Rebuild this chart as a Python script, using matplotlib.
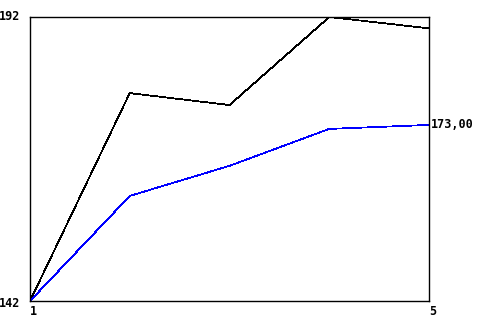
import matplotlib
matplotlib.use("Agg")
import matplotlib.pyplot as plt
from matplotlib.transforms import ScaledTranslation

x = [1, 2, 3, 4, 5]
black_series = [142, 178.6, 176.5, 192, 190.0]
blue_series = [142, 160.5, 165.8, 172.3, 173.0]
y_ticks = [142, 192]
x_ticks = [1, 5]
last_label = "173,00"

fig = plt.figure(figsize=(4.8, 3.2), dpi=100)
ax = fig.add_axes([30/480, 19/320, 399/480, 284/320])
ax.plot(x, black_series, color="black", lw=0.55, antialiased=False)
ax.plot(x, blue_series, color="blue", lw=0.55, antialiased=False)
ax.set_xlim(1, 5)
ax.set_ylim(142, 192)
font = dict(family="DejaVu Sans Mono", weight="bold", size=8.5)
ax.set_xticks(x_ticks)
ax.set_xticklabels([str(v) for v in x_ticks], ha="left", **font)
ax.set_yticks(y_ticks)
ax.set_yticklabels([str(v) for v in y_ticks], **font)
ax.tick_params(length=0, pad=3)
ax.tick_params(axis="y", pad=7)
ylabs = ax.get_yticklabels()
for lab in ylabs:
    lab.set_va("center")
ylabs[0].set_transform(ylabs[0].get_transform() + ScaledTranslation(0, -0.025, fig.dpi_scale_trans))
for sp in ax.spines.values():
    sp.set_linewidth(1.0)
ax.annotate(last_label, xy=(5, blue_series[-1]), xytext=(1, 0), textcoords="offset points",
            ha="left", va="center", annotation_clip=False, **font)
fig.savefig("out.png", dpi=100)
